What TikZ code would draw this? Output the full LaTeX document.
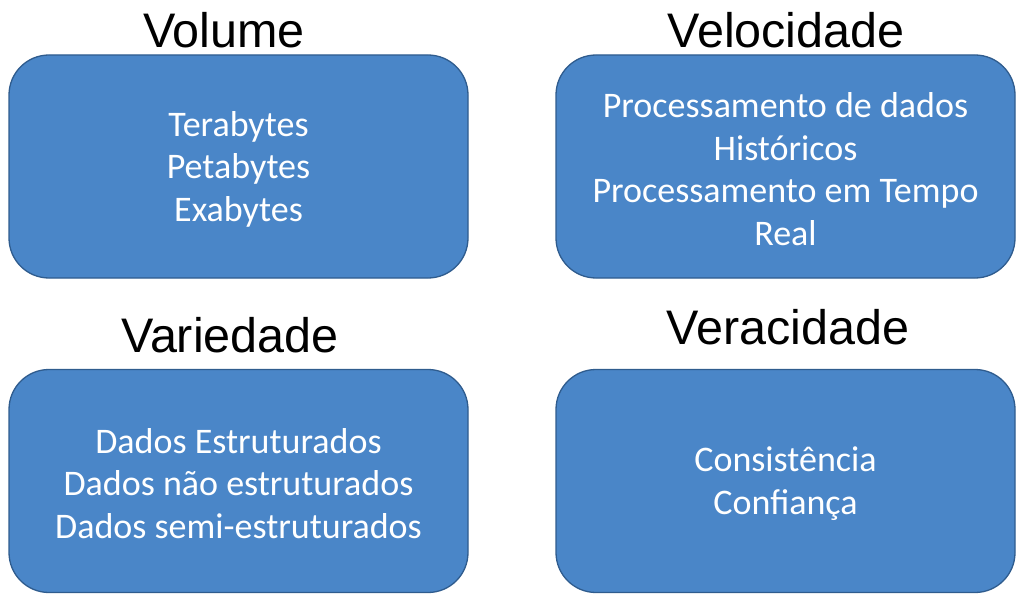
\documentclass[tikz,border=0pt]{standalone}
\usepackage{fontspec}
\setmainfont{Carlito}
\newfontfamily\titlefont{Liberation Sans}
\usetikzlibrary{positioning}
\definecolor{boxfill}{HTML}{4A86C8}
\definecolor{boxline}{HTML}{2F5C8E}

\begin{document}
\begin{tikzpicture}[x=1pt,y=-1pt,
  card/.style={draw=boxline,line width=1.3pt,fill=boxfill,rounded corners=40pt,
    minimum width=459pt,minimum height=223pt},
  cardtext/.style={align=center,text=white,yshift=-2.5pt,
    font=\fontsize{36}{42.5}\selectfont},
  heading/.style={font=\titlefont\fontsize{48.5}{52}\selectfont,inner sep=0pt}]
\useasboundingbox (0,0) rectangle (1024,596);

% Headings.
\node[heading] (tvol) at (224,30) {Volume};
\node[heading] (tvel) at (786,30) {Velocidade};
\node[heading] (tvar) at (230,335) {Variedade};
\node[heading] (tver) at (788,327) {Veracidade};

% Four cards.
\node[card] (vol) at (238.5,166.5) {};
\node[card] (vel) at (785.5,166.5) {};
\node[card] (var) at (238.5,481) {};
\node[card] (ver) at (785.5,481) {};

% Card contents.
\node[cardtext] (voltxt) at (vol) {Terabytes\\Petabytes\\Exabytes};
\node[cardtext] (veltxt) at (vel) {Processamento de dados\\Históricos\\Processamento em Tempo\\Real};
\node[cardtext] (vartxt) at (var) {Dados Estruturados\\Dados não estruturados\\Dados semi-estruturados};
\node[cardtext] (vertxt) at (ver) {Consistência\\Confiança};

\end{tikzpicture}
\end{document}
